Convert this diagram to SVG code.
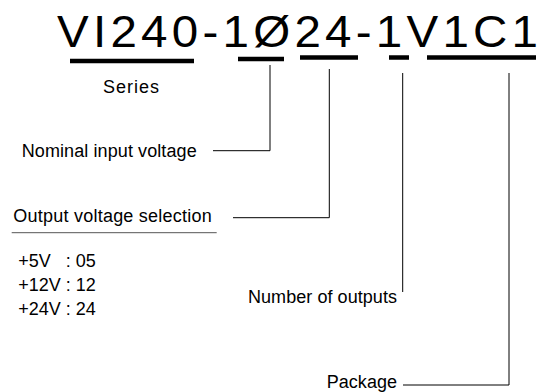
<svg xmlns="http://www.w3.org/2000/svg" width="551" height="392" viewBox="0 0 551 392">
<style>
text{font-family:"Liberation Sans",Arial,sans-serif;fill:#000}
.lbl{font-size:18px}
.bar{stroke:#000;stroke-width:4.5;fill:none}
.ln{stroke:#000;stroke-width:1;fill:none}
</style>
<rect width="551" height="392" fill="#fff"/>
<g id="title"><text transform="scale(1.08,1)" x="52.8" y="46.7" font-size="44" textLength="445.4">VI240-1Ø24-1V1C1</text></g>
<g id="bars">
<line class="bar" x1="70" y1="61" x2="194" y2="61"/>
<line class="bar" x1="238" y1="59" x2="284" y2="59"/>
<line class="bar" x1="300" y1="57.5" x2="358" y2="57.5"/>
<line class="bar" x1="389" y1="57.5" x2="409" y2="57.5"/>
<line class="bar" x1="427" y1="57.5" x2="536" y2="57.5"/>
</g>
<g id="series"><text class="lbl" x="103" y="92.7" font-size="20" textLength="56">Series</text></g>
<g id="nominal"><text class="lbl" x="21.7" y="156.7" textLength="175">Nominal input voltage</text></g>
<g id="output-voltage">
<text class="lbl" x="13.3" y="222.3" textLength="198.4">Output voltage selection</text>
<line x1="11.7" y1="232.7" x2="216.7" y2="232.7" stroke="#555" stroke-width="1"/>
<text class="lbl" x="18.3" y="266.7" xml:space="preserve">+5V   : 05</text>
<text class="lbl" x="18.3" y="290.7">+12V : 12</text>
<text class="lbl" x="18.3" y="314.7">+24V : 24</text>
</g>
<g id="outputs"><text class="lbl" x="248" y="303" textLength="149">Number of outputs</text></g>
<g id="package"><text class="lbl" x="326.7" y="388" textLength="70.3">Package</text></g>
<g id="connectors">
<polyline class="ln" points="270,65 270,150.7 213,150.7"/>
<polyline class="ln" points="329.3,69 329.3,217.7 233,217.7"/>
<polyline class="ln" points="402.7,73 402.7,292"/>
<polyline class="ln" points="509,73 509,385 403,385"/>
</g>
</svg>
